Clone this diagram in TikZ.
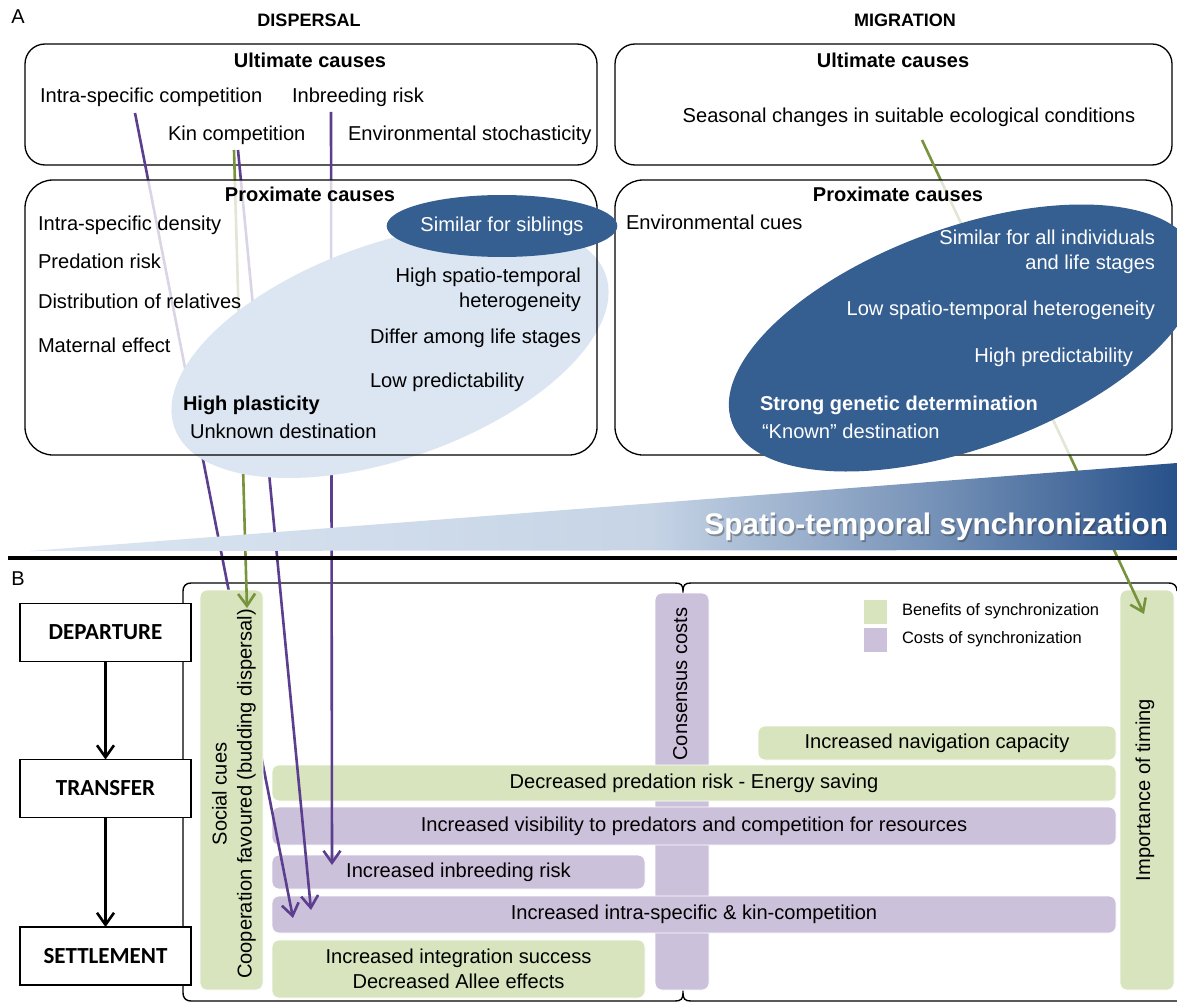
\documentclass[tikz,border=0pt]{standalone}
\usepackage{fontspec}
\setmainfont{Liberation Sans}
\newfontfamily\calib{Carlito}
\usetikzlibrary{shapes.geometric,arrows.meta}
\definecolor{lblue}{HTML}{DCE6F2}
\definecolor{dblue}{HTML}{355F91}
\definecolor{bgreen}{HTML}{D7E4BD}
\definecolor{bpurple}{HTML}{CCC1DA}
\definecolor{lpurple}{HTML}{5B3F8E}
\definecolor{lgreen}{HTML}{77933C}
\definecolor{wedgeend}{HTML}{27518A}
\colorlet{wA}{lblue!88!wedgeend}
\colorlet{wB}{lblue!45!wedgeend}
\pgfdeclarehorizontalshading{wedgeshade}{100bp}{color(0bp)=(lblue); color(25bp)=(lblue); color(52bp)=(wA); color(64bp)=(wB); color(75bp)=(wedgeend); color(100bp)=(wedgeend)}
\begin{document}
\begin{tikzpicture}[x=1pt,y=-1pt,
 every node/.style={inner sep=0pt,outer sep=0pt},
 tx/.style={font=\fontsize{20.1}{24}\selectfont,text height=14pt,text depth=4pt},
 txb/.style={font=\bfseries\fontsize{20}{24}\selectfont,text height=14pt,text depth=4pt},
 txm/.style={font=\fontsize{20.1}{25}\selectfont},
 txl/.style={font=\fontsize{16.5}{20}\selectfont,text height=12pt,text depth=3.5pt},
 cbox/.style={draw,line width=1.3pt,rounded corners=20pt},
 pfill/.style={fill=white,fill opacity=0.78,rounded corners=28pt},
 ben/.style={fill=bgreen,draw=white,line width=0.8pt,rounded corners=7pt},
 cost/.style={fill=bpurple,draw=white,line width=0.8pt,rounded corners=7pt},
 stage/.style={draw,line width=1.4pt,fill=white,minimum width=171pt,minimum height=58pt,font=\calib\bfseries\fontsize{23}{27}\selectfont},
 plk/.style={draw=lpurple,line width=2.6pt,-{Straight Barb[length=12pt,width=17pt]}},
 glk/.style={draw=lgreen,line width=2.6pt,-{Straight Barb[length=12pt,width=17pt]}},
 blk/.style={line width=2.6pt,-{Straight Barb[length=12pt,width=17pt]}},
 frm/.style={line width=1.4pt},
 ttl/.style={font=\bfseries\fontsize{18}{22}\selectfont}]
\useasboundingbox (0,0) rectangle (1177,1003);
\fill[white] (0,0) rectangle (1177,1003);

% ================= PART B (background) =================
\draw[frm] (183,993) -- (183,591) .. controls (183,586) and (186,583) .. (191,583) -- (675,583)
  .. controls (681,583) and (683,585) .. (683,591) .. controls (683,585) and (685,583) .. (691,583)
  -- (1169,583) .. controls (1174,583) and (1177,586) .. (1177,591);
\draw[frm] (183,993) .. controls (183,998) and (186,1001) .. (191,1001) -- (675,1001)
  .. controls (681,1001) and (683,999) .. (683,993) .. controls (683,999) and (685,1001) .. (691,1001)
  -- (1177,1001);

\node[stage] (dep) at (105.5,632.5) {DEPARTURE};
\node[stage] (tra) at (105.5,788.5) {TRANSFER};
\node[stage] (set) at (105.5,956) {SETTLEMENT};
\draw[blk] (dep) -- (tra);
\draw[blk] (tra) -- (set);

\node[cost,minimum width=54pt,minimum height=397pt] (cons) at (682,791.5) {};
\node[tx,rotate=90] (consT) at (682,684) {Consensus costs};
\node[ben,minimum width=54pt,minimum height=400pt] (imp) at (1147,790) {};
\node[tx,rotate=90] (impT) at (1145,790) {Importance of timing};

\node[ben,tx,minimum width=358pt,minimum height=34pt] (nav) at (937,743) {Increased navigation capacity};
\node[ben,tx,minimum width=844pt,minimum height=36pt] (pred) at (694,783) {Decreased predation risk - Energy saving};
\node[cost,tx,minimum width=844pt,minimum height=38pt] (vis) at (694,826) {Increased visibility to predators and competition for resources};
\node[cost,tx,minimum width=373pt,minimum height=34pt] (inb) at (458.5,872) {Increased inbreeding risk};
\node[cost,tx,minimum width=844pt,minimum height=37pt] (comp) at (694,914.5) {Increased intra-specific \& kin-competition};
\node[ben,txm,align=center,minimum width=373pt,minimum height=58pt] (integ) at (458.5,969) {Increased integration success\\Decreased Allee effects};

\node[fill=bgreen,minimum width=23pt,minimum height=24pt] (legB) at (875.5,612) {};
\node[fill=bpurple,minimum width=23pt,minimum height=24pt] (legC) at (875.5,640) {};
\node[txl,anchor=west] (legBT) at (902,611) {Benefits of synchronization};
\node[txl,anchor=west] (legCT) at (902,639) {Costs of synchronization};

% ================= PART A =================
\node[tx,font=\fontsize{20}{24}\selectfont] (labA) at (18,19) {A};
\node[ttl] (tD) at (309,20) {DISPERSAL};
\node[ttl] (tM) at (905,20) {MIGRATION};

\node[cbox,minimum width=572pt,minimum height=121pt] (ultD) at (311,104.5) {};
\node[cbox,minimum width=557pt,minimum height=121pt] (ultM) at (893.5,104.5) {};
\node[txb] (ultDT) at (310,63) {Ultimate causes};
\node[tx,anchor=west] (icomp) at (40,98) {Intra-specific competition};
\node[tx,anchor=west] (inbr) at (292,98) {Inbreeding risk};
\node[tx,anchor=west] (kin) at (168,136) {Kin competition};
\node[tx,anchor=west] (envs) at (348,136) {Environmental stochasticity};
\node[txb] (ultMT) at (893,63) {Ultimate causes};
\node[tx] (seas) at (909,118) {Seasonal changes in suitable ecological conditions};

% connectors
\coordinate (s1) at (135,113);  \coordinate (e1) at (293,918);
\coordinate (sg) at (234,150);  \coordinate (eg) at (247,608);
\coordinate (s2) at (238,150);  \coordinate (e2) at (311,910);
\coordinate (s3) at (331,112);  \coordinate (e3) at (332,865);
\coordinate (sm) at (922,140);  \coordinate (em) at (1144,614);
\draw[plk] (s1) -- (e1);
\node[ben,minimum width=63pt,minimum height=400pt] (soc) at (231.5,790) {};
\node[txm,align=center,rotate=90] (socT) at (234,794) {Social cues\\Cooperation favoured (budding dispersal)};
\draw[glk] (sg) -- (eg);
\draw[plk] (s2) -- (e2);
\draw[plk] (s3) -- (e3);
\draw[glk] (sm) -- (em);

% proximate boxes
\node[pfill,minimum width=572pt,minimum height=275pt] (proxD) at (311,317.5) {};
\node[pfill,minimum width=557pt,minimum height=275pt] (proxM) at (893.5,317.5) {};
\node[ellipse,fill=lblue,minimum width=457.6pt,minimum height=214.8pt,rotate=19.6] (plast) at (390,351) {};
\draw[line width=1.3pt,rounded corners=28pt] (proxD.north west) rectangle (proxD.south east);
\draw[line width=1.3pt,rounded corners=28pt] (proxM.north west) rectangle (proxM.south east);
\node[ellipse,fill=dblue,minimum width=494pt,minimum height=220pt,rotate=20] (gen) at (964,338) {};
\node[ellipse,fill=dblue,minimum width=196pt,minimum height=62pt,tx,text=white] (sib) at (502,226) {Similar for siblings};

\node[txb] (proxDT) at (310,196) {Proximate causes};
\node[tx,anchor=west] (dens) at (38,225) {Intra-specific density};
\node[tx,anchor=west] (predr) at (38,263) {Predation risk};
\node[tx,anchor=west] (distr) at (38,303) {Distribution of relatives};
\node[tx,anchor=west] (mat) at (38,347) {Maternal effect};
\node[txm,align=right,anchor=east] (hsth) at (581,290) {High spatio-temporal\\heterogeneity};
\node[tx,anchor=east] (diff) at (581,338) {Differ among life stages};
\node[tx,anchor=west] (lowp) at (370,382) {Low predictability};
\node[txb,anchor=west] (hpl) at (183,405) {High plasticity};
\node[tx,anchor=west] (unk) at (190,433) {Unknown destination};

\node[txb] (proxMT) at (898,196) {Proximate causes};
\node[tx,anchor=west] (envc) at (626,224) {Environmental cues};
\node[txm,align=right,anchor=east,text=white] (simall) at (1155,252) {Similar for all individuals\\and life stages};
\node[tx,anchor=east,text=white] (lowh) at (1155,310) {Low spatio-temporal heterogeneity};
\node[tx,anchor=east,text=white] (highp) at (1133,357) {High predictability};
\node[txb,anchor=west,text=white] (sgd) at (760,405) {Strong genetic determination};
\node[tx,anchor=west,text=white] (known) at (762,433) {“Known” destination};

% wedge
\shade[shading=wedgeshade] (30,551) -- (1177,463) -- (1177,550) -- cycle;
\node[font=\bfseries\fontsize{29.8}{34}\selectfont,text=black!80,opacity=0.4,anchor=east] at (1169.5,529) {Spatio-temporal synchronization};
\node[font=\bfseries\fontsize{29.8}{34}\selectfont,text=white,anchor=east] (sync) at (1168,527) {Spatio-temporal synchronization};

\draw[line width=3.5pt] (8,558) -- (1177,558);
\node[tx,font=\fontsize{20}{24}\selectfont] (labB) at (18,580) {B};
\end{tikzpicture}
\end{document}
